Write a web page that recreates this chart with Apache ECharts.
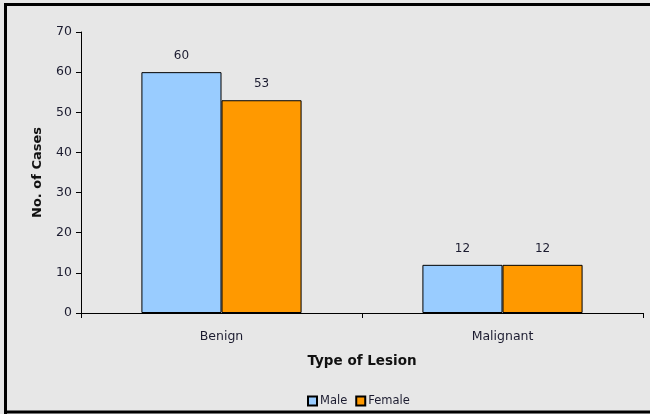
<!DOCTYPE html>
<html>
<head>
<meta charset="utf-8">
<script src="https://cdn.jsdelivr.net/npm/echarts@6/dist/echarts.min.js"></script>
<style>
  html, body { margin: 0; padding: 0; }
  #chart { width: 650px; height: 414px; }
</style>
</head>
<body>
<div id="chart"></div>
<script>
// data
const categories = ['Benign', 'Malignant'];
const maleCases = [60, 12];
const femaleCases = [53, 12];
const yTicks = [0, 10, 20, 30, 40, 50, 60, 70];

const font = 'DejaVu Sans, Verdana, sans-serif';
const textColor = '#1c1c30';

let myChart = echarts.init(document.getElementById('chart'));
let option = {
  backgroundColor: '#e7e7e7',
  animation: false,
  textStyle: { fontFamily: font },
  // frame: top, left and bottom edges only
  graphic: [
    { type: 'line', shape: { x1: 4, y1: 4.5, x2: 650, y2: 4.5 }, style: { stroke: '#000', lineWidth: 3 } },
    { type: 'line', shape: { x1: 5.5, y1: 3, x2: 5.5, y2: 414 }, style: { stroke: '#000', lineWidth: 3 } },
    { type: 'line', shape: { x1: 4, y1: 412, x2: 650, y2: 412 }, style: { stroke: '#000', lineWidth: 3 } }
  ],
  grid: { left: 81, right: 7, top: 32, bottom: 101 },
  legend: {
    left: 302,
    top: 390,
    itemWidth: 9,
    itemHeight: 9,
    itemGap: 8,
    icon: 'rect',
    textStyle: { fontSize: 11.5, color: textColor, fontFamily: font, padding: [0, 0, 0, -2] },
    data: ['Male', 'Female']
  },
  xAxis: {
    type: 'category',
    data: categories,
    name: 'Type of Lesion',
    nameLocation: 'middle',
    nameGap: 41,
    nameTextStyle: { fontSize: 13.5, fontWeight: 'bold', color: '#111', fontFamily: font },
    axisLine: { lineStyle: { color: '#000', width: 1 } },
    axisTick: { show: true, length: 5, lineStyle: { color: '#000' } },
    axisLabel: { fontSize: 12.5, color: textColor, margin: 17, fontFamily: font }
  },
  yAxis: {
    type: 'value',
    min: yTicks[0],
    max: yTicks[yTicks.length - 1],
    interval: 10,
    name: 'No. of Cases',
    nameLocation: 'middle',
    nameGap: 37,
    nameTextStyle: { fontSize: 13, fontWeight: 'bold', color: '#111', fontFamily: font },
    axisLine: { show: true, lineStyle: { color: '#000', width: 1 } },
    axisTick: { show: true, length: 5, lineStyle: { color: '#000' } },
    axisLabel: { fontSize: 12.5, color: textColor, margin: 9, fontFamily: font },
    splitLine: { show: false }
  },
  series: [
    {
      name: 'Male',
      type: 'bar',
      data: maleCases,
      barGap: '0%',
      barCategoryGap: '43%',
      itemStyle: { color: '#99ccff', borderColor: '#000', borderWidth: 1 },
      label: { show: true, position: 'top', distance: 10, fontSize: 12, color: textColor, fontFamily: font }
    },
    {
      name: 'Female',
      type: 'bar',
      data: femaleCases,
      barGap: '0%',
      barCategoryGap: '43%',
      itemStyle: { color: '#ff9900', borderColor: '#000', borderWidth: 1 },
      label: { show: true, position: 'top', distance: 10, fontSize: 12, color: textColor, fontFamily: font }
    }
  ]
};
myChart.setOption(option);
</script>
</body>
</html>
